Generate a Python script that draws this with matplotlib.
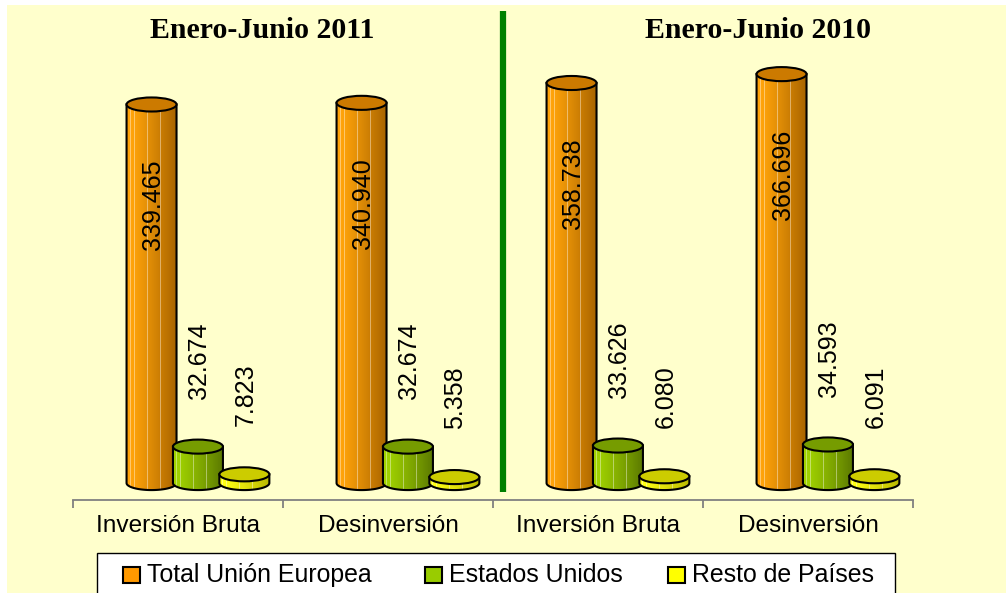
import numpy as np
import matplotlib
matplotlib.use("Agg")
import matplotlib.pyplot as plt
from matplotlib.patches import Polygon, Ellipse, Rectangle

# data (miles de euros)
categories = ['Inversión Bruta', 'Desinversión', 'Inversión Bruta', 'Desinversión']
periods = ['Enero-Junio 2011', 'Enero-Junio 2010']
series = ['Total Unión Europea', 'Estados Unidos', 'Resto de Países']
total_ue = [339.465, 340.940, 358.738, 366.696]
eeuu = [32.674, 32.674, 33.626, 34.593]
resto = [7.823, 5.358, 6.080, 6.091]

W, H = 1006, 593
plt.rcParams['font.family'] = ['Liberation Sans', 'DejaVu Sans']

fig = plt.figure(figsize=(W / 100, H / 100), dpi=100)
fig.patch.set_facecolor('white')
fig.add_artist(Rectangle((7 / W, 0), 1 - 7 / W, 1 - 5 / H, transform=fig.transFigure,
                         facecolor='#FFFFCC', edgecolor='none', zorder=0))

ax = fig.add_axes([73 / W, 93 / H, 840 / W, 488 / H])
ax.set_facecolor('none')

# styles: light side, dark side, top colour, legend colour
styles = [
    ((255, 163, 10), (168, 100, 0), (204, 122, 0), '#FF9900'),
    ((160, 210, 0), (92, 122, 0), (118, 156, 0), '#99CC00'),
    ((255, 255, 20), (185, 185, 0), (204, 204, 0), '#FFFF00'),
]
offsets = [-0.126, 0.095, 0.316]
bar_w = 0.238
ell_h = 12.6
stripes = [0.07, 0.15, 0.22, 0.34, 0.41, 0.52, 0.6, 0.67, 0.76, 0.84, 0.9]


def gradient(light, dark, n=120):
    s = np.linspace(0, 1, n)
    light = np.array(light) / 255.0
    dark = np.array(dark) / 255.0
    k = np.clip((s - 0.1) / 0.9, 0, 1) ** 1.1
    cols = light[None, :] * (1 - k[:, None]) + dark[None, :] * k[:, None]
    for p in stripes:
        i = int(p * n)
        cols[i] = cols[i] * 0.6 + 0.4
    return cols[None, :, :]


def cylinder(xc, v, light, dark, top, z):
    x0, x1 = xc - bar_w / 2, xc + bar_w / 2
    t = np.linspace(np.pi, 2 * np.pi, 60)
    pts = np.column_stack([xc + bar_w / 2 * np.cos(t), ell_h / 2 * np.sin(t)])
    pts = np.vstack([pts, [[x1, v], [x0, v]]])
    body = Polygon(pts, closed=True, facecolor='none', edgecolor='black', lw=1.5, zorder=z + 0.2)
    ax.add_patch(body)
    im = ax.imshow(gradient(light, dark), extent=[x0, x1, -ell_h / 2, v], aspect='auto',
                   interpolation='nearest', zorder=z)
    im.set_clip_path(body)
    ax.add_patch(Ellipse((xc, v), bar_w, ell_h, facecolor=np.array(top) / 255.0,
                         edgecolor='black', lw=1.5, zorder=z + 0.3))


values = [total_ue, eeuu, resto]
for i in range(len(categories)):
    for j, vals in enumerate(values):
        light, dark, top, _ = styles[j]
        xc = i + 0.5 + offsets[j]
        v = vals[i]
        cylinder(xc, v, light, dark, top, 2 + j)
        lab = f'{v:.3f}'
        if j == 0:
            ax.text(xc + 0.005, v - 90, lab, rotation=90, ha='center', va='center',
                    fontsize=18, zorder=10)
        else:
            ax.text(xc + 0.005, v + 43, lab, rotation=90, ha='center', va='bottom',
                    fontsize=18, zorder=10)

ax.set_xlim(0, 4)
ax.set_ylim(-15.2, 422.4)

for s in ['top', 'left', 'right']:
    ax.spines[s].set_visible(False)
ax.spines['bottom'].set_color('#808080')
ax.spines['bottom'].set_linewidth(1.3)
ax.set_yticks([])
ax.set_xticks([0.5, 1.5, 2.5, 3.5], categories)
ax.set_xticks([0, 1, 2, 3, 4], minor=True)
ax.tick_params(axis='x', which='major', length=0, pad=11, labelsize=17.6)
ax.tick_params(axis='x', which='minor', length=5.5, width=1.3, color='#808080', direction='out')

# separator between periods
ax.vlines(2.048, -8, 423, color='#008000', lw=4.5, zorder=1, clip_on=False)

for k, title in enumerate(periods):
    fig.text((262 + 496 * k) / W, 1 - 31 / H, title, ha='center', va='center',
             family=['Liberation Serif', 'DejaVu Serif'], fontweight='bold', fontsize=21.5)

# legend box (runs off the bottom edge like the original)
fig.add_artist(Rectangle((97 / W, -0.05), 798 / W, 1 - 553 / H + 0.05, transform=fig.transFigure,
                         facecolor='white', edgecolor='black', lw=1.0, zorder=5))
leg_x = [123, 425, 668]
for k, name in enumerate(series):
    fig.add_artist(Rectangle((leg_x[k] / W, 1 - 583 / H), 17 / W, 16 / H, transform=fig.transFigure,
                             facecolor=styles[k][3], edgecolor='black', lw=1.5, zorder=6))
    fig.text((leg_x[k] + 24) / W, 1 - 582 / H, name, ha='left', va='baseline',
             fontsize=17.9, zorder=6)

fig.savefig('out.png', dpi=100)
